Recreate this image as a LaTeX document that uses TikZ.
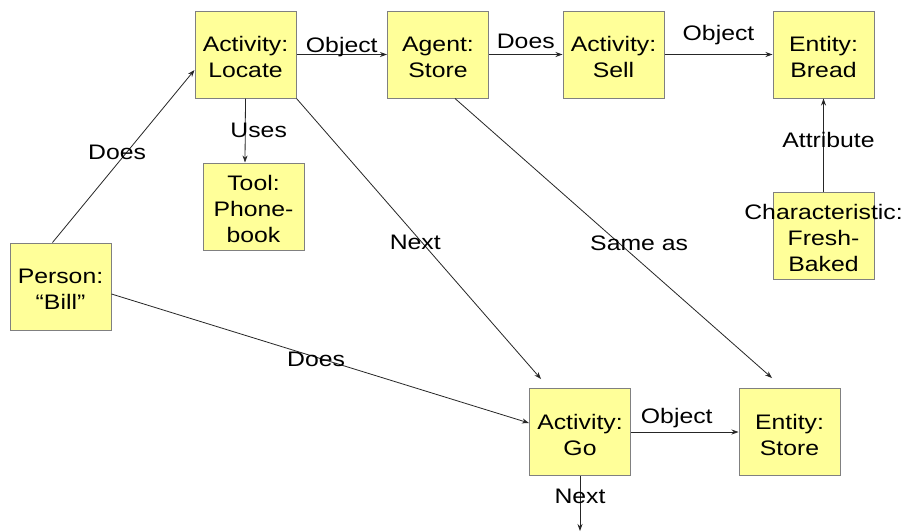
\documentclass[tikz,border=0pt]{standalone}
\usepackage{fontspec}
\setmainfont{Liberation Sans}[FakeStretch=1.18]
\usetikzlibrary{arrows.meta}
\definecolor{boxfill}{RGB}{255,255,153}
\definecolor{boxline}{RGB}{128,128,128}
\newcommand{\toppad}{\rule{0pt}{20.5pt}}
\tikzset{
  box/.style={draw=boxline, line width=1pt, fill=boxfill, minimum width=101pt, minimum height=87pt, inner sep=0pt, align=center, font=\fontsize{21}{26}\selectfont},
  arr/.style={draw=black!85, line width=0.8pt, -{Stealth[length=7pt,width=5pt]}},
  lbl/.style={font=\fontsize{21}{26}\selectfont, inner sep=0pt, anchor=base}
}
\begin{document}
\begin{tikzpicture}[x=1pt,y=-1pt]
\useasboundingbox[fill=white] (0,0) rectangle (904,531);
\node[box] (loc) at (245.5,54.5) {\toppad Activity:\\Locate};
\node[box] (agent) at (438,54.5) {\toppad Agent:\\Store};
\node[box] (sell) at (613.5,54.5) {\toppad Activity:\\Sell};
\node[box] (bread) at (823.5,54.5) {\toppad Entity:\\Bread};
\node[box] (tool) at (253.5,206.5) {\toppad Tool:\\Phone-\\book};
\node[box] (char) at (823.5,235.5) {\toppad\makebox[0pt][c]{Characteristic:}\\Fresh-\\Baked};
\node[box] (bill) at (60.5,286.5) {\toppad Person:\\``Bill''};
\node[box] (go) at (580,432) {\toppad Activity:\\Go};
\node[box] (estore) at (789.5,432) {\toppad Entity:\\Store};
\coordinate (goend) at (580,531);

\draw[arr] ([xshift=-8pt]bill.north) -- ([yshift=-15.5pt]loc.west)
  node[lbl, pos=0.48, xshift=-3.5pt] {Does};
\draw[arr] (loc.east) -- (agent.west)
  node[lbl, midway, yshift=2pt] {Object};
\draw[arr] (agent.east) -- (sell.west)
  node[lbl, midway, yshift=6pt] {Does};
\draw[arr] (sell.east) -- (bread.west)
  node[lbl, midway, yshift=14pt] {Object};
\draw[arr] (loc.south) -- ([xshift=-8.5pt]tool.north)
  node[lbl, pos=0.615, xshift=13.5pt] {Uses};
\draw[arr] (char.north) -- (bread.south)
  node[lbl, pos=0.468, xshift=5pt] {Attribute};
\draw[arr] (loc.south east) -- ([xshift=-39pt,yshift=9pt]go.north)
  node[lbl, pos=0.539, xshift=-13pt] {Next};
\draw[arr] ([xshift=17pt]agent.south) -- ([xshift=-17.5pt,yshift=10pt]estore.north)
  node[lbl, pos=0.543, xshift=12pt] {Same as};
\draw[arr] ([yshift=-7.5pt]bill.east) -- ([yshift=9pt]go.west)
  node[lbl, pos=0.49, yshift=-9pt] {Does};
\draw[arr] (go.east) -- (estore.west)
  node[lbl, midway, xshift=-8pt, yshift=9pt] {Object};
\draw[arr] (go.south) -- (goend)
  node[lbl, pos=0.49, yshift=-1pt] {Next};
\end{tikzpicture}
\end{document}
